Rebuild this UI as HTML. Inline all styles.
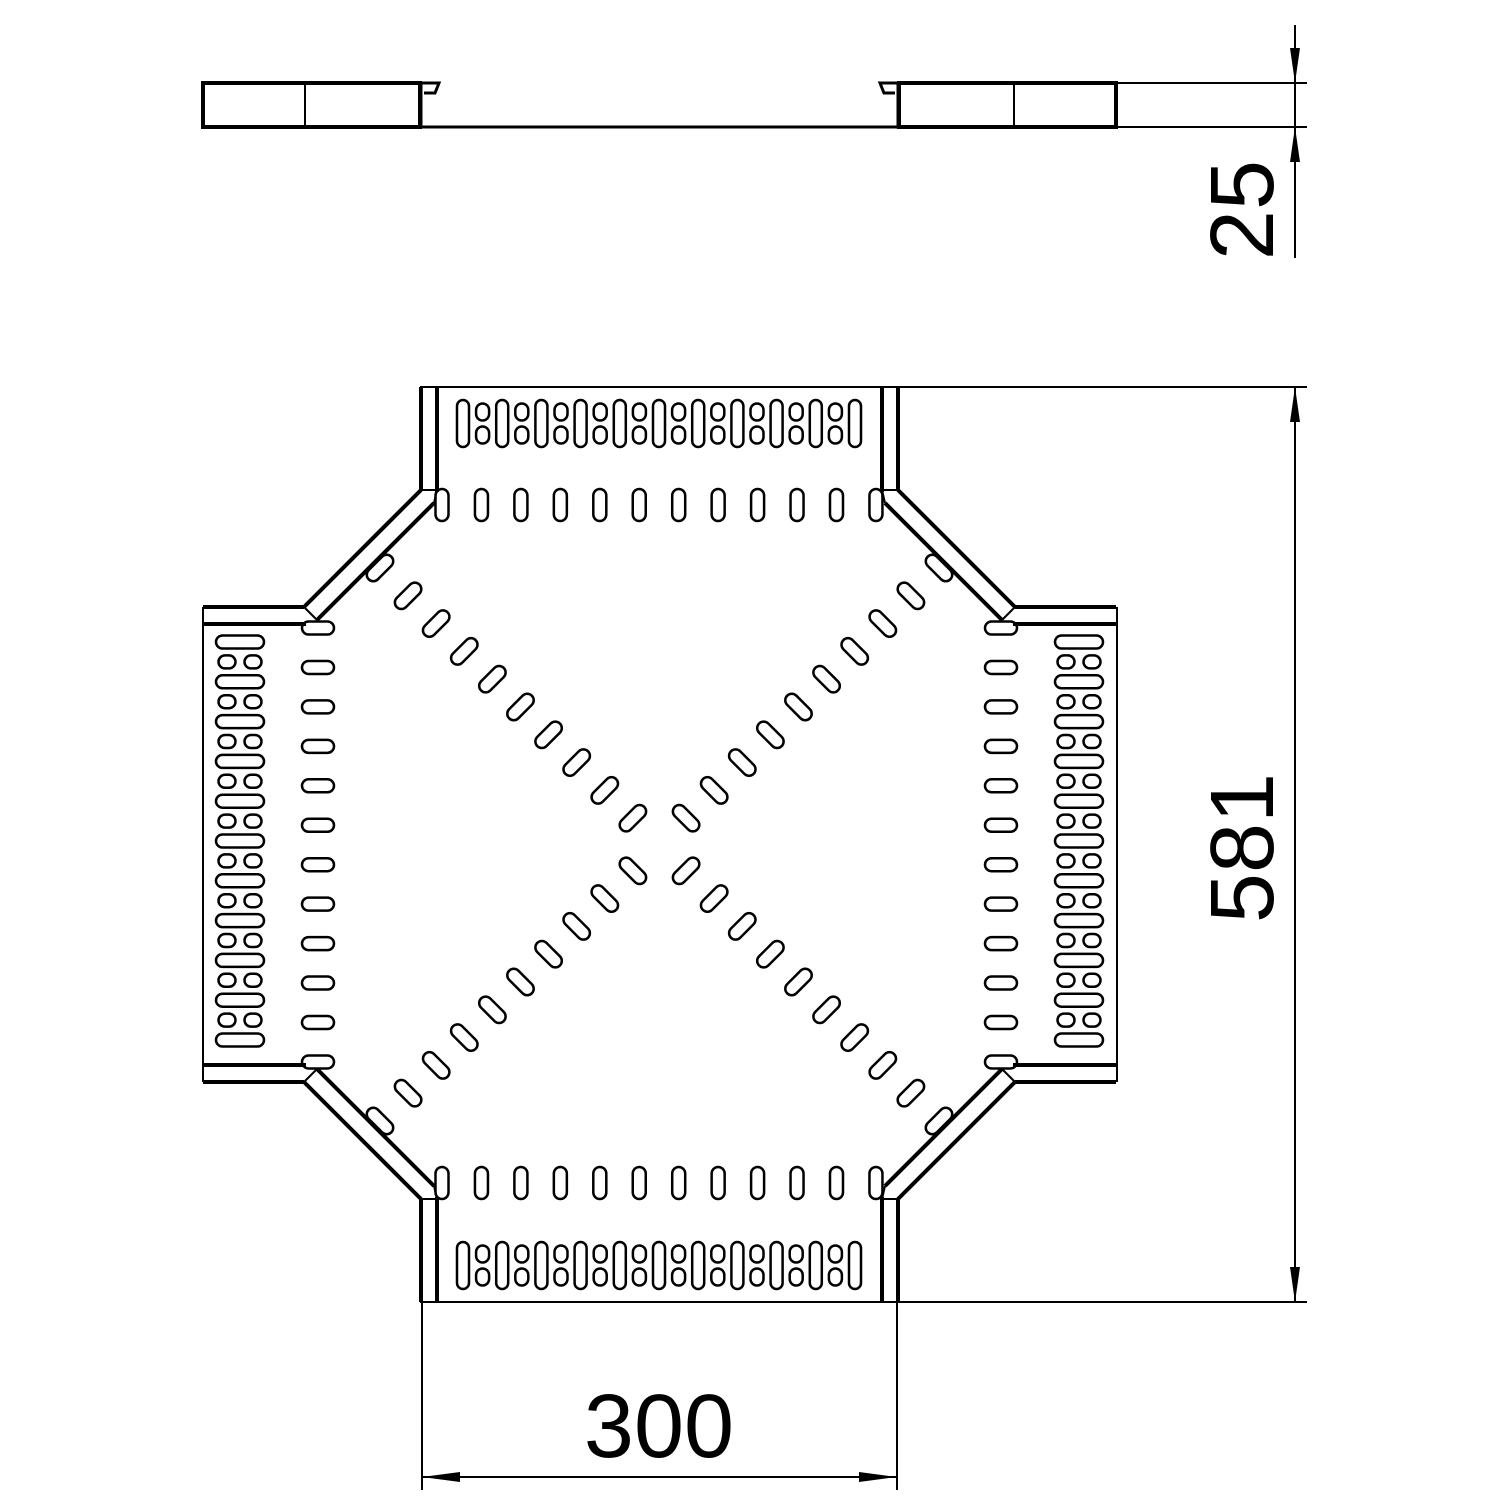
<!DOCTYPE html>
<html><head><style>html,body{margin:0;padding:0;background:#fff}svg{display:block}</style></head>
<body>
<svg id="s" width="1500" height="1500" viewBox="0 0 1500 1500" xmlns="http://www.w3.org/2000/svg" fill="none" stroke="#000">
<g id="side">
<g id="sideL">
<rect x="203" y="83" width="217" height="44" stroke-width="4"/>
<line x1="305" y1="83" x2="305" y2="127" stroke-width="2"/>
<polyline points="421,127 421,83 439,83 435,93 424,93" stroke-width="3"/>
</g>
<use href="#sideL" transform="translate(1319,0) scale(-1,1)"/>
<line x1="420" y1="127" x2="898" y2="127" stroke-width="3"/>
</g>
<!-- dimension 25 -->
<line x1="1117" y1="83" x2="1307" y2="83" stroke-width="2"/>
<line x1="1117" y1="127" x2="1307" y2="127" stroke-width="2"/>
<line x1="1295" y1="25" x2="1295" y2="258" stroke-width="2"/>
<polygon points="1295,83 1290,48 1300,48" fill="#000" stroke="none"/>
<polygon points="1295,127 1290,162 1300,162" fill="#000" stroke="none"/>
<text x="1273" y="210" transform="rotate(-90 1273 210)" text-anchor="middle" font-family="Liberation Sans, sans-serif" font-size="90" fill="#000" stroke="none">25</text>
<!-- dimension 581 -->
<line x1="898" y1="387" x2="1307" y2="387" stroke-width="2"/>
<line x1="898" y1="1302" x2="1307" y2="1302" stroke-width="2"/>
<line x1="1295" y1="387" x2="1295" y2="1302" stroke-width="2"/>
<polygon points="1295,387 1290,422 1300,422" fill="#000" stroke="none"/>
<polygon points="1295,1302 1290,1267 1300,1267" fill="#000" stroke="none"/>
<text x="1273" y="848" transform="rotate(-90 1273 848)" text-anchor="middle" font-family="Liberation Sans, sans-serif" font-size="90" fill="#000" stroke="none">581</text>
<!-- dimension 300 -->
<line x1="422" y1="1302" x2="422" y2="1490" stroke-width="2"/>
<line x1="897" y1="1302" x2="897" y2="1490" stroke-width="2"/>
<line x1="422" y1="1477" x2="897" y2="1477" stroke-width="2"/>
<polygon points="422,1477 460,1472 460,1482" fill="#000" stroke="none"/>
<polygon points="897,1477 859,1472 859,1482" fill="#000" stroke="none"/>
<text x="659" y="1457" text-anchor="middle" font-family="Liberation Sans, sans-serif" font-size="90" fill="#000" stroke="none">300</text>
<!-- plan outline -->
<line x1="420" y1="387" x2="898" y2="387" stroke-width="2"/>
<line x1="420" y1="1302" x2="898" y2="1302" stroke-width="2"/>
<line x1="203" y1="607" x2="203" y2="1082" stroke-width="2"/>
<line x1="1117" y1="607" x2="1117" y2="1082" stroke-width="2"/>
<g id="cTL">
<line x1="421" y1="387" x2="421" y2="490" stroke-width="4"/>
<line x1="437" y1="387" x2="437" y2="492" stroke-width="4"/>
<line x1="203" y1="607" x2="304" y2="607" stroke-width="4"/>
<line x1="203" y1="624" x2="306" y2="624" stroke-width="4"/>
<line x1="421" y1="490" x2="304" y2="607" stroke-width="4"/>
<line x1="434" y1="503" x2="317" y2="620" stroke-width="4"/>
<line x1="421" y1="490" x2="437" y2="490" stroke-width="2"/>
<line x1="437" y1="490" x2="434" y2="503" stroke-width="2"/>
<line x1="304" y1="607" x2="317" y2="620" stroke-width="2"/>
</g>
<use href="#cTL" transform="translate(1319,0) scale(-1,1)"/>
<use href="#cTL" transform="translate(0,1689) scale(1,-1)"/>
<use href="#cTL" transform="translate(1319,1689) scale(-1,-1)"/>
<g id="slots" stroke-width="2.5"></g>
</svg>
<script>
var g=document.getElementById('slots'),h='';
function e(cx,cy,rx,ry,rot){h+='<rect x="'+(cx-rx)+'" y="'+(cy-ry)+'" width="'+2*rx+'" height="'+2*ry+'" rx="'+Math.min(rx,ry)+'"'+(rot?' transform="rotate('+rot+' '+cx+' '+cy+')"':'')+'/>';}
var i;
for(i=0;i<12;i++){var x=442+39.45*i;e(x,505,6.5,16);e(x,1183,6.5,16);var y=628+39.45*i;e(318,y,16,6.5);e(1001,y,16,6.5);}
for(i=0;i<11;i++){var x=463+39.2*i;e(x,423.5,6,23.5);e(x,1265.5,6,23.5);
 if(i<10){var xm=x+19.6;e(xm,412,6.5,8.5);e(xm,435,6.5,8.5);e(xm,1254,6.5,8.5);e(xm,1277,6.5,8.5);}}
for(i=0;i<11;i++){var y=642+39.8*i;e(240,y,24,6.5);e(1079,y,24,6.5);
 if(i<10){var ym=y+19.9;e(227,ym,8.5,6.5);e(253,ym,8.5,6.5);e(1066,ym,8.5,6.5);e(1092,ym,8.5,6.5);}}
for(i=0;i<10;i++){var dx=28.1*i,dy=27.8*i;
 e(380+dx,568+dy,16,6.5,-45); e(939-dx,568+dy,16,6.5,45);
 e(380+dx,1121-dy,16,6.5,45); e(939-dx,1121-dy,16,6.5,-45);}
g.innerHTML=h;
</script>
</body></html>
